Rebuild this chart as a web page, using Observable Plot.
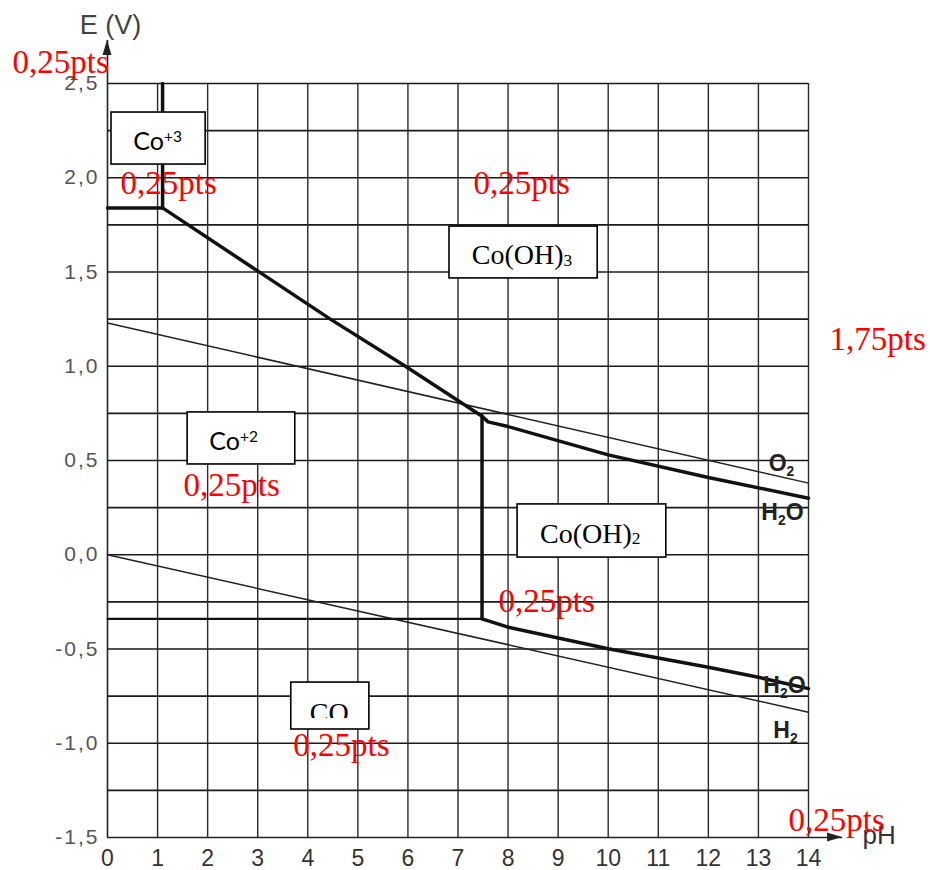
<!DOCTYPE html>
<html><head><meta charset="utf-8">
<script src="https://cdn.jsdelivr.net/npm/d3@7"></script>
<script src="https://cdn.jsdelivr.net/npm/@observablehq/plot@0.6"></script>
<style>
html,body{margin:0;padding:0;background:#fff;}
#chart{width:930px;height:870px;overflow:hidden;}
g[aria-label="y-axis tick label"] text{letter-spacing:2px;}
</style></head><body><div id="chart"></div>
<script>
// ---- axes / ticks ----
const pHTicks = [0,1,2,3,4,5,6,7,8,9,10,11,12,13,14];
const eTicks = [-1.5,-1,-0.5,0,0.5,1,1.5,2,2.5];
const eGrid = [-1.25,-1,-0.75,-0.5,-0.25,0,0.25,0.5,0.75,1,1.25,1.5,1.75,2,2.25,2.5];
const pHGrid = [1,2,3,4,5,6,7,8,9,10,11,12,13,14];
const axisEnds = {pH: 14.68, E: 2.728};

// ---- water stability lines (thin) ----
const lineO2H2O = [{pH:0,E:1.23},{pH:14,E:0.38}];
const lineH2OH2 = [{pH:0,E:0.0},{pH:14,E:-0.835}];

// ---- cobalt boundaries (heavy) ----
const co3co2Flat = [{pH:0,E:1.84},{pH:1.1,E:1.84}];
const co3Vertical = [{pH:1.1,E:1.84},{pH:1.1,E:2.5}];
const co3co2Slope = [{pH:1.1,E:1.84},{pH:4.45,E:1.25},{pH:5.95,E:1.0},{pH:7.48,E:0.735}];
const coOH3coOH2 = [{pH:7.48,E:0.735},{pH:7.6,E:0.705},{pH:8,E:0.68},{pH:10,E:0.53},{pH:12,E:0.41},{pH:14,E:0.30}];
const co2Vertical = [{pH:7.48,E:0.735},{pH:7.48,E:-0.34}];
const co2coFlat = [{pH:0,E:-0.34},{pH:7.48,E:-0.34}];
const coOH2co = [{pH:7.48,E:-0.34},{pH:8,E:-0.384},{pH:10,E:-0.499},{pH:12,E:-0.597},{pH:13,E:-0.65},{pH:14,E:-0.71}];

// ---- region boxes ----
const boxes = [
  {name:"Co+3", x1:0.08, x2:1.96, y1:2.07, y2:2.346},
  {name:"Co(OH)3", x1:6.83, x2:9.79, y1:1.466, y2:1.741},
  {name:"Co+2", x1:1.6, x2:3.75, y1:0.479, y2:0.755},
  {name:"Co(OH)2", x1:8.19, x2:11.16, y1:-0.015, y2:0.267},
  {name:"CO", x1:3.67, x2:5.23, y1:-0.927, y2:-0.678}
];
const ionLabels = [
  {text:"Co^{+3}", pH:1.0, E:2.19},
  {text:"Co^{+2}", pH:2.52, E:0.597}
];
const solidLabels = [
  {text:"Co(OH)_{3}", pH:8.28, E:1.59},
  {text:"Co(OH)_{2}", pH:9.64, E:0.112}
];
const coLabel = [{text:"CO", pH:4.43, E:-0.84}];
const coCover = [{x1:3.70, x2:5.20, y1:-0.919, y2:-0.869}];
const lineLabels = [
  {text:"O_{2}", pH:13.46, E:0.484},
  {text:"H_{2}O", pH:13.48, E:0.224},
  {text:"H_{2}O", pH:13.52, E:-0.694},
  {text:"H_{2}", pH:13.54, E:-0.932}
];
// ---- red grading marks ----
const gradeMarks = [
  {text:"0,25pts", pH:-1.897, E:2.558},
  {text:"0,25pts", pH:0.26, E:1.916},
  {text:"0,25pts", pH:7.31, E:1.916},
  {text:"1,75pts", pH:14.42, E:1.084},
  {text:"0,25pts", pH:1.52, E:0.314},
  {text:"0,25pts", pH:7.81, E:-0.306},
  {text:"0,25pts", pH:3.71, E:-1.065},
  {text:"0,25pts", pH:13.60, E:-1.463}
];
const axisTitles = {y:"E (V)", x:"pH", yPos:{pH:0.06, E:2.765}, xPos:{pH:15.08, E:-1.532}};

const heavy = {x:"pH", y:"E", stroke:"#111", strokeWidth:3.5, strokeLinejoin:"round", strokeLinecap:"round"};
const thin = {x:"pH", y:"E", stroke:"#222", strokeWidth:1.5};

const plot = Plot.plot({
  width: 930, height: 870,
  marginLeft: 107, marginRight: 122, marginTop: 83, marginBottom: 33,
  x: {domain:[0,14]},
  y: {domain:[-1.5,2.5]},
  style: {fontFamily:"Liberation Sans, Arial, sans-serif", background:"#fff", overflow:"visible"},
  marks: [
    Plot.ruleY(eGrid, {y: d=>d, x1:0, x2:14, stroke:"#1a1a1a", strokeWidth:1.6}),
    Plot.ruleX(pHGrid, {x: d=>d, y1:-1.5, y2:2.5, stroke:"#2a2a2a", strokeWidth:1.4}),
    Plot.ruleX([0], {x: d=>d, y1:-1.5, y2:axisEnds.E, stroke:"#222", strokeWidth:1.6}),
    Plot.ruleY([-1.5], {y: d=>d, x1:0, x2:axisEnds.pH, stroke:"#222", strokeWidth:1.6}),
    Plot.line(lineO2H2O, thin),
    Plot.line(lineH2OH2, thin),
    Plot.line(co3co2Flat, heavy),
    Plot.line(co3Vertical, heavy),
    Plot.line(co3co2Slope, heavy),
    Plot.line(coOH3coOH2, heavy),
    Plot.line(co2Vertical, heavy),
    Plot.line(co2coFlat, {...heavy, strokeWidth:2.2}),
    Plot.line(coOH2co, heavy),
    Plot.rect(boxes, {x1:"x1", x2:"x2", y1:"y1", y2:"y2", fill:"#fff", stroke:"#000", strokeWidth:1.6}),
    Plot.text(ionLabels, {x:"pH", y:"E", text:"text", fontFamily:"Lato, 'Open Sans', sans-serif", fontSize:25, fill:"#000"}),
    Plot.text(solidLabels, {x:"pH", y:"E", text:"text", fontFamily:"'Liberation Serif', serif", fontSize:28, fill:"#000"}),
    Plot.text(coLabel, {x:"pH", y:"E", text:"text", fontFamily:"'Liberation Serif', serif", fontSize:28, fill:"#000"}),
    Plot.rect(coCover, {x1:"x1", x2:"x2", y1:"y1", y2:"y2", fill:"#fff"}),
    Plot.text(lineLabels, {x:"pH", y:"E", text:"text", fontFamily:"'Liberation Sans', Arial, sans-serif", fontWeight:"bold", fontSize:23, fill:"#222"}),
    Plot.axisY(eTicks, {tickSize:0, tickPadding:8, tickFormat: d => d.toFixed(1).replace(".", ","), fontSize:21, fill:"#555", label:null}),
    Plot.axisX(pHTicks, {tickSize:0, tickPadding:12, tickFormat: d => String(d), fontSize:23, fill:"#333", label:null}),
    Plot.text([axisTitles.yPos], {x:"pH", y:"E", text:()=>axisTitles.y, textAnchor:"middle", lineAnchor:"bottom", fontSize:27, fill:"#444"}),
    Plot.text([axisTitles.xPos], {x:"pH", y:"E", text:()=>axisTitles.x, textAnchor:"start", lineAnchor:"bottom", fontSize:26, fill:"#333"}),
    Plot.text(gradeMarks, {x:"pH", y:"E", text:"text", textAnchor:"start", lineAnchor:"bottom", fontFamily:"'Liberation Serif', serif", fontSize:33, fill:"#ff0000"})
  ]
});

document.getElementById("chart").appendChild(plot);

// rich text: ^{..} superscripts, _{..} subscripts
const richOpts = {
  ion:   {sup:-0.33, sub:0.2,  scale:0.62},
  solid: {sup:-0.4,  sub:0.06, scale:0.62},
  line:  {sup:-0.4,  sub:0.24, scale:0.6}
};
plot.querySelectorAll("text").forEach(t => {
  const s = t.textContent;
  if (!/[\^_]\{/.test(s)) return;
  const opts = s.startsWith("Co^") ? richOpts.ion : s.startsWith("Co(") ? richOpts.solid : richOpts.line;
  const fs = parseFloat(getComputedStyle(t).fontSize);
  while (t.firstChild) t.removeChild(t.firstChild);
  const re = /([\^_])\{([^}]*)\}|([^\^_]+)/g;
  let m, shift = 0;
  while ((m = re.exec(s))) {
    const ts = document.createElementNS("http://www.w3.org/2000/svg", "tspan");
    if (m[3]) {
      ts.textContent = m[3];
      if (shift) { ts.setAttribute("dy", -shift); shift = 0; }
    } else {
      const d = (m[1] === "^" ? opts.sup : opts.sub) * fs;
      ts.setAttribute("font-size", opts.scale * fs);
      ts.setAttribute("dy", d - shift);
      shift = d;
      ts.textContent = m[2];
    }
    t.appendChild(ts);
  }
});

// arrowheads at the ends of the axes
const xs = plot.scale("x"), ys = plot.scale("y");
const svg = d3.select(plot);
const yTip = [xs.apply(0), ys.apply(axisEnds.E)];
const xTip = [xs.apply(axisEnds.pH), ys.apply(-1.5)];
svg.append("path").attr("d", `M${yTip[0]},${yTip[1]} L${yTip[0]-4.5},${yTip[1]+15} L${yTip[0]+4.5},${yTip[1]+15} Z`).attr("fill", "#222");
svg.append("path").attr("d", `M${xTip[0]},${xTip[1]} L${xTip[0]-15},${xTip[1]-4.5} L${xTip[0]-15},${xTip[1]+4.5} Z`).attr("fill", "#222");
</script>
</body></html>
